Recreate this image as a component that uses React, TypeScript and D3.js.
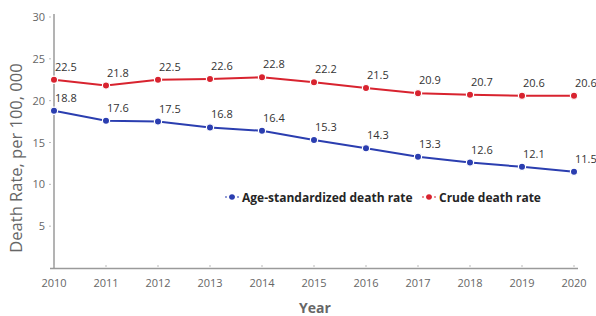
import { useEffect, useRef } from "react";
import * as d3 from "d3";

const years = [2010, 2011, 2012, 2013, 2014, 2015, 2016, 2017, 2018, 2019, 2020];
const ageStandardized = [18.8, 17.6, 17.5, 16.8, 16.4, 15.3, 14.3, 13.3, 12.6, 12.1, 11.5];
const crude = [22.5, 21.8, 22.5, 22.6, 22.8, 22.2, 21.5, 20.9, 20.7, 20.6, 20.6];
const yTicks = [5, 10, 15, 20, 25, 30];

const seriesList = [
  { name: "Age-standardized death rate", values: ageStandardized, color: "#2b3eb0" },
  { name: "Crude death rate", values: crude, color: "#d8232f" },
];

const W = 596;
const H = 316;
const font = "'Open Sans', 'Noto Sans', sans-serif";

export default function App() {
  const svgRef = useRef<SVGSVGElement | null>(null);

  useEffect(() => {
    const svg = d3.select(svgRef.current);
    svg.selectAll("*").remove();

    const x = d3.scalePoint<number>().domain(years).range([54, 574]);
    const y = d3.scaleLinear().domain([0, 30]).range([268, 17]);

    // axes
    svg.append("line")
      .attr("x1", 54).attr("x2", 54).attr("y1", 14).attr("y2", 269)
      .attr("stroke", "#9a9a9a").attr("stroke-width", 1.5);
    svg.append("line")
      .attr("x1", 50).attr("x2", 578).attr("y1", 268.5).attr("y2", 268.5)
      .attr("stroke", "#9a9a9a").attr("stroke-width", 1.5);

    const yt = svg.append("g").selectAll("g").data(yTicks).enter().append("g");
    yt.append("line")
      .attr("x1", 49).attr("x2", 51)
      .attr("y1", d => y(d)).attr("y2", d => y(d))
      .attr("stroke", "#bbb");
    yt.append("text")
      .attr("x", 45).attr("y", d => y(d) + 4)
      .attr("text-anchor", "end")
      .attr("fill", "#666").style("font", `11px ${font}`)
      .text(d => d);

    const xt = svg.append("g").selectAll("g").data(years).enter().append("g");
    xt.append("line")
      .attr("x1", d => x(d)!).attr("x2", d => x(d)!)
      .attr("y1", 265).attr("y2", 267)
      .attr("stroke", "#bbb");
    xt.append("text")
      .attr("x", d => x(d)!).attr("y", 287)
      .attr("text-anchor", "middle")
      .attr("fill", "#666").style("font", `11px ${font}`)
      .text(d => d);

    svg.append("text")
      .attr("x", 315).attr("y", 313)
      .attr("text-anchor", "middle")
      .attr("fill", "#666").style("font", `bold 14px ${font}`)
      .text("Year");

    svg.append("text")
      .attr("transform", "translate(22,158) rotate(-90)")
      .attr("text-anchor", "middle")
      .attr("fill", "#666").style("font", `16.5px ${font}`)
      .text("Death Rate, per 100, 000");

    // series
    const line = d3.line<number>()
      .x((_, i) => x(years[i])!)
      .y(d => y(d));

    seriesList.forEach(s => {
      const g = svg.append("g");
      g.append("path")
        .attr("d", line(s.values))
        .attr("fill", "none")
        .attr("stroke", s.color)
        .attr("stroke-width", 2);
      g.selectAll("circle").data(s.values).enter().append("circle")
        .attr("cx", (_, i) => x(years[i])!)
        .attr("cy", d => y(d))
        .attr("r", 3.6)
        .attr("fill", s.color)
        .attr("stroke", "#fff")
        .attr("stroke-width", 1.2);
      g.selectAll("text").data(s.values).enter().append("text")
        .attr("x", (_, i) => x(years[i])! + 1)
        .attr("y", d => y(d) - 9)
        .attr("fill", "#333")
        .style("font", `11px ${font}`)
        .text(d => d.toFixed(1));
    });

    // legend
    const legendPos = [232, 429];
    seriesList.forEach((s, i) => {
      const lx = legendPos[i];
      const g = svg.append("g");
      g.append("line")
        .attr("x1", lx - 7).attr("x2", lx + 7)
        .attr("y1", 197).attr("y2", 197)
        .attr("stroke", s.color).attr("stroke-width", 1.2)
        .attr("stroke-dasharray", "2,2");
      g.append("circle")
        .attr("cx", lx).attr("cy", 197).attr("r", 2.8)
        .attr("fill", s.color);
      g.append("text")
        .attr("x", lx + 10).attr("y", 201.5)
        .attr("fill", "#252525")
        .style("font", `bold 12px ${font}`)
        .text(s.name);
    });
  }, []);

  return (
    <svg
      ref={svgRef}
      width={W}
      height={H}
      style={{ position: "absolute", left: 0, top: 0, background: "#fff" }}
    />
  );
}
